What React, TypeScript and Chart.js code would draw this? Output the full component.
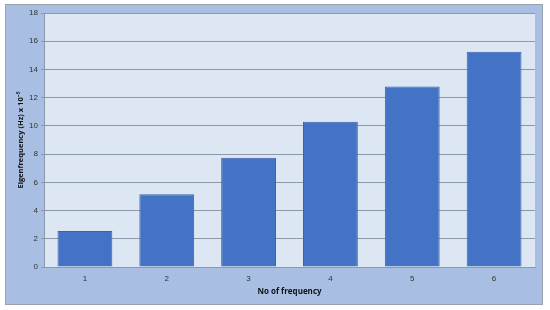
import React, { useEffect, useRef } from "react";
import { Chart, registerables } from "chart.js";
Chart.register(...registerables);

const categories = ["1", "2", "3", "4", "5", "6"];
const eigenValues = [2.55, 5.15, 7.75, 10.3, 12.8, 15.25];
const yTitle = "Eigenfrequency (Hz) x 10⁻⁵";
const xTitle = "No of frequency";

const bgPlugin = {
  id: "bgPlugin",
  beforeDraw(chart: any) {
    const { ctx, chartArea } = chart;
    ctx.save();
    ctx.fillStyle = "#a9bee3";
    ctx.fillRect(5, 4, 538, 301);
    ctx.strokeStyle = "#9aa3ad";
    ctx.lineWidth = 1;
    ctx.strokeRect(5.5, 4.5, 537, 300);
    ctx.fillStyle = "#dde7f3";
    ctx.fillRect(chartArea.left, chartArea.top, chartArea.right - chartArea.left, chartArea.bottom - chartArea.top);
    ctx.restore();
  },
};

export default function App() {
  const ref = useRef<HTMLCanvasElement>(null);
  useEffect(() => {
    const chart = new Chart(ref.current!, {
      type: "bar",
      data: {
        labels: categories,
        datasets: [
          {
            data: eigenValues,
            backgroundColor: "#4472c4",
            borderColor: "#3b63ab",
            borderWidth: 1,
            barPercentage: 0.67,
            categoryPercentage: 1,
          },
        ],
      },
      options: {
        animation: false,
        responsive: false,
        layout: { padding: { left: 16, top: 13, right: 15, bottom: 13 } },
        plugins: { legend: { display: false }, tooltip: { enabled: false } },
        scales: {
          x: {
            afterFit: (s: any) => { s.height = 30; },
            grid: { display: false, drawTicks: false },
            border: { display: true, color: "#8c99ab", width: 1 },
            ticks: { color: "#333", font: { family: "Liberation Sans", size: 8 }, padding: 7 },
            title: {
              display: true,
              text: xTitle,
              color: "#111",
              font: { family: "Open Sans", size: 8, weight: "bold" },
              padding: { top: 0, bottom: 0 },
            },
          },
          y: {
            min: 0,
            max: 18,
            afterFit: (s: any) => { s.width = 28; },
            ticks: { stepSize: 2, color: "#333", font: { family: "Liberation Sans", size: 8 }, padding: 3 },
            grid: { color: "#8c99ab", tickLength: 3 },
            border: { display: true, color: "#8c99ab", width: 1 },
            title: {
              display: true,
              text: yTitle,
              color: "#111",
              font: { family: "Open Sans", size: 7.5, weight: "bold" },
              padding: { top: 0, bottom: 4 },
            },
          },
        },
      },
      plugins: [bgPlugin],
    });
    return () => chart.destroy();
  }, []);
  return (
    <div style={{ position: "absolute", left: 0, top: 0, width: 550, height: 310 }}>
      <canvas ref={ref} width={550} height={310} style={{ width: 550, height: 310 }} />
    </div>
  );
}
